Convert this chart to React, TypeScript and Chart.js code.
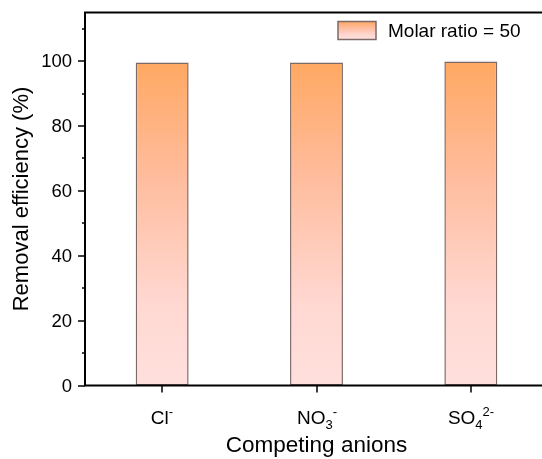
import React, { useEffect, useRef } from "react";
import { Chart, registerables } from "chart.js";

Chart.register(...registerables);

const categories = ["Cl⁻", "NO₃⁻", "SO₄²⁻"];
const removalEfficiency = [99.6, 99.6, 99.9];
const seriesName = "Molar ratio = 50";
const yTitle = "Removal efficiency (%)";
const xTitle = "Competing anions";
const yMin = 0;
const yMax = 115;
const yMajorStep = 20;
const yMinorStep = 10;

const FONT = "'Liberation Sans', Arial, sans-serif";
const SUB = "₀₁₂₃₄₅₆₇₈₉";
const SUP_MAP: Record<string, string> = { "⁻": "-", "⁺": "+", "²": "2", "³": "3", "¹": "1", "⁴": "4" };

function makeGradient(ctx: CanvasRenderingContext2D, yTop: number, yBottom: number) {
  const g = ctx.createLinearGradient(0, yTop, 0, yBottom);
  g.addColorStop(0, "#FFA862");
  g.addColorStop(0.35, "#FFBC9C");
  g.addColorStop(0.75, "#FFD8D2");
  g.addColorStop(1, "#FFE0DD");
  return g;
}

function drawRich(ctx: CanvasRenderingContext2D, text: string, cx: number, baseline: number) {
  type Seg = { t: string; kind: "n" | "sub" | "sup" };
  const segs: Seg[] = [];
  for (const ch of text) {
    let kind: Seg["kind"] = "n";
    let t = ch;
    const si = SUB.indexOf(ch);
    if (si >= 0) { kind = "sub"; t = String(si); }
    else if (SUP_MAP[ch] !== undefined) { kind = "sup"; t = SUP_MAP[ch]; }
    const last = segs[segs.length - 1];
    if (last && last.kind === kind) last.t += t; else segs.push({ t, kind });
  }
  const big = `19px ${FONT}`;
  const small = `13px ${FONT}`;
  let total = 0;
  const widths = segs.map((s) => {
    ctx.font = s.kind === "n" ? big : small;
    const w = ctx.measureText(s.t).width;
    total += w;
    return w;
  });
  let x = cx - total / 2;
  ctx.textAlign = "left";
  ctx.textBaseline = "alphabetic";
  segs.forEach((s, i) => {
    ctx.font = s.kind === "n" ? big : small;
    const dy = s.kind === "sub" ? 5 : s.kind === "sup" ? -8 : 0;
    ctx.fillText(s.t, x, baseline + dy);
    x += widths[i];
  });
}

const decorPlugin = {
  id: "decor",
  afterDatasetsDraw(chart: any) {
    const { ctx, chartArea, scales } = chart;
    const y = scales.y;
    const xs = scales.x;
    ctx.save();
    ctx.strokeStyle = "#000";
    ctx.fillStyle = "#000";
    ctx.lineWidth = 2;
    ctx.beginPath();
    ctx.moveTo(chartArea.left, chartArea.top);
    ctx.lineTo(chartArea.right, chartArea.top);
    ctx.moveTo(chartArea.left, chartArea.top - 1);
    ctx.lineTo(chartArea.left, chartArea.bottom);
    ctx.moveTo(chartArea.left - 1, chartArea.bottom);
    ctx.lineTo(chartArea.right, chartArea.bottom);
    ctx.stroke();
    ctx.lineWidth = 1.5;
    for (let v = yMin; v <= yMax; v += yMinorStep) {
      const p = Math.round(y.getPixelForValue(v));
      const major = v % yMajorStep === 0;
      const len = major ? 7 : 3;
      ctx.beginPath();
      ctx.moveTo(chartArea.left - len, p);
      ctx.lineTo(chartArea.left, p);
      ctx.stroke();
      if (major) {
        ctx.font = `18.5px ${FONT}`;
        ctx.textAlign = "right";
        ctx.textBaseline = "middle";
        ctx.fillText(String(v), chartArea.left - 13, p + 1);
      }
    }
    categories.forEach((c, i) => {
      const px = Math.round(xs.getPixelForValue(i));
      ctx.lineWidth = 1.5;
      ctx.beginPath();
      ctx.moveTo(px, chartArea.bottom);
      ctx.lineTo(px, chartArea.bottom + 7);
      ctx.stroke();
      drawRich(ctx, c, px, chartArea.bottom + 38);
    });
    ctx.font = `22.5px ${FONT}`;
    ctx.textAlign = "center";
    ctx.textBaseline = "alphabetic";
    ctx.fillText(xTitle, (chartArea.left + chartArea.right) / 2, 452);
    ctx.save();
    ctx.font = `22px ${FONT}`;
    ctx.textBaseline = "middle";
    ctx.translate(22, (chartArea.top + chartArea.bottom) / 2);
    ctx.rotate(-Math.PI / 2);
    ctx.fillText(yTitle, 0, 0);
    ctx.restore();
    const bx = 338;
    const by = chartArea.top + 9;
    const bw = 38, bh = 18;
    ctx.fillStyle = makeGradient(ctx, by, by + bh);
    ctx.fillRect(bx, by, bw, bh);
    ctx.strokeStyle = "#7c6a66";
    ctx.lineWidth = 1.5;
    ctx.strokeRect(bx, by, bw, bh);
    ctx.fillStyle = "#000";
    ctx.font = `19px ${FONT}`;
    ctx.textAlign = "left";
    ctx.textBaseline = "middle";
    ctx.fillText(seriesName, bx + bw + 12, by + bh / 2 + 1);
    ctx.restore();
  },
};

export default function App() {
  const ref = useRef<HTMLCanvasElement | null>(null);
  useEffect(() => {
    document.body.style.margin = "0";
    document.body.style.overflow = "hidden";
    const canvas = ref.current!;
    const chart = new Chart(canvas, {
      type: "bar",
      data: {
        labels: categories,
        datasets: [
          {
            label: seriesName,
            data: removalEfficiency,
            backgroundColor: (c: any) => {
              const ch = c.chart;
              if (!ch.chartArea || !ch.scales.y) return "#FFC0A8";
              const ys = ch.scales.y;
              return makeGradient(ch.ctx, ys.getPixelForValue(100), ys.getPixelForValue(0));
            },
            borderColor: "#7c6a66",
            borderWidth: 1.5,
            borderSkipped: false,
            categoryPercentage: 1,
            barPercentage: 0.343,
          },
        ],
      },
      options: {
        responsive: false,
        animation: false,
        layout: { padding: { left: 0, right: 8, top: 12.5, bottom: 0 } },
        plugins: { legend: { display: false }, tooltip: { enabled: false } },
        scales: {
          x: {
            grid: { display: false, drawTicks: false },
            border: { display: false },
            ticks: { display: false },
            afterFit: (s: any) => { s.height = 73.5; },
          },
          y: {
            min: yMin,
            max: yMax,
            grid: { display: false, drawTicks: false },
            border: { display: false },
            ticks: { display: false, stepSize: yMajorStep, includeBounds: false },
            afterFit: (s: any) => { s.width = 85; },
          },
        },
      },
      plugins: [decorPlugin],
    });
    return () => chart.destroy();
  }, []);
  return (
    <div style={{ width: 542, height: 459, overflow: "hidden" }}>
      <canvas ref={ref} width={556} height={459} style={{ display: "block" }} />
    </div>
  );
}
